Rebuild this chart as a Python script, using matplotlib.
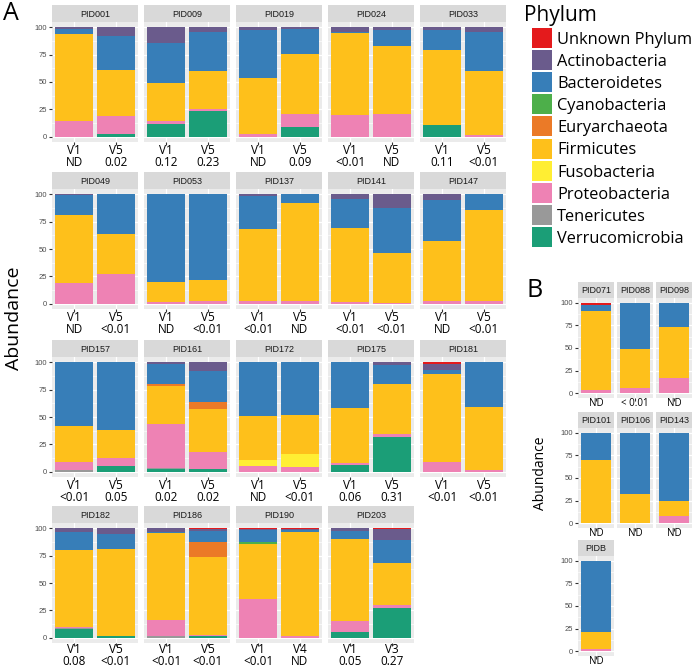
import numpy as np
from matplotlib import pyplot as plt
from matplotlib import transforms as tr
from matplotlib.patches import Rectangle

W, H = 696, 669

PHYLA = ['Unknown Phylum', 'Actinobacteria', 'Bacteroidetes', 'Cyanobacteria',
         'Euryarchaeota', 'Firmicutes', 'Fusobacteria', 'Proteobacteria',
         'Tenericutes', 'Verrucomicrobia']
COLORS = ['#E41A1C', '#6A5B8C', '#377EB8', '#4DAF4A', '#EB7A27',
          '#FEC01B', '#FFEE33', '#EE82B4', '#999999', '#1B9E77']

# panel A: two samples per participant
pid_a = ['PID001', 'PID009', 'PID019', 'PID024', 'PID033',
         'PID049', 'PID053', 'PID137', 'PID141', 'PID147',
         'PID157', 'PID161', 'PID172', 'PID175', 'PID181',
         'PID182', 'PID186', 'PID190', 'PID203']
visit_a = ['V1', 'V5', 'V1', 'V5', 'V1', 'V5', 'V1', 'V5', 'V1', 'V5',
           'V1', 'V5', 'V1', 'V5', 'V1', 'V5', 'V1', 'V5', 'V1', 'V5',
           'V1', 'V5', 'V1', 'V5', 'V1', 'V5', 'V1', 'V5', 'V1', 'V5',
           'V1', 'V5', 'V1', 'V5', 'V1', 'V4', 'V1', 'V3']
pval_a = ['ND', '0.02', '0.12', '0.23', 'ND', '0.09', '<0.01', 'ND', '0.11', '<0.01',
          'ND', '<0.01', 'ND', '<0.01', '<0.01', 'ND', '<0.01', '<0.01', 'ND', '<0.01',
          '<0.01', '0.05', '0.02', '0.02', 'ND', '<0.01', '0.06', '0.31', '<0.01', '<0.01',
          '0.08', '<0.01', '<0.01', '<0.01', '<0.01', 'ND', '0.05', '0.27']

unknown_a = [0, 0, 0, 0, 0, 0, 0, 0, 0, 0, 0, 0, 0, 0, 0, 0, 0, 0, 0, 0,
             0, 0, 0, 0, 0, 0, 0, 0, 1, 0, 0, 0, 0, 0.5, 0.5, 0.5, 0, 0.5]
actino_a = [1, 8, 14, 4, 2, 1, 4.5, 2, 2.5, 4, 0.5, 0, 0, 0, 1, 0, 4, 12.5, 5.5, 0,
            0, 0, 1, 7.5, 0, 0, 0, 2, 6, 0, 3, 5, 3.5, 1.5, 1, 0.5, 2, 10]
bactero_a = [5, 31, 37, 36, 44, 23, 0.5, 15, 18.5, 36, 18.5, 36, 80.5, 78.5, 31, 8, 27, 41, 37.5, 14,
             58, 62, 18.5, 28.5, 49, 48, 42, 18, 4, 41, 17, 13.5, 0.5, 10, 10.5, 2.5, 8, 21.5]
cyano_a = [0, 0, 0, 0, 0, 0, 0, 0, 0, 0, 0, 0, 0, 0, 0, 0, 0, 0, 0, 0,
           0, 0, 0, 0, 0, 0, 0, 0, 0, 0, 0, 0, 0, 0, 2.5, 0, 0, 0]
eury_a = [0, 0, 0, 0, 0, 0, 0, 0, 0, 0, 0, 0, 0, 0, 0, 0, 0, 0, 0, 0,
          0, 0, 2.5, 6.5, 0, 0, 0, 0, 0, 0, 0, 0, 0, 14.5, 0, 0, 0, 0]
firmi_a = [80, 42, 35, 35, 52, 55.5, 75.5, 62, 68, 58.5, 62, 37, 18.5, 19, 66, 89.5, 67.5, 46, 54.5, 83.5,
           33.5, 26, 34, 39.5, 40.5, 35.5, 50.5, 45.5, 80, 58, 70.5, 80, 80, 71.5, 50, 95.5, 74.5, 38]
fuso_a = [0, 0, 0, 0, 0, 0, 0, 0, 0, 0, 0, 0, 0, 0, 0, 0, 0, 0, 0, 0,
          0, 0, 0, 0, 5, 12, 0, 0, 0, 0, 0, 0, 0, 0, 0, 0, 0, 0]
proteo_a = [14, 17, 2.5, 2, 2, 11.5, 19.5, 21, 0, 1.5, 19, 27, 1, 2.5, 2, 2.5, 1.5, 0.5, 2.5, 2.5,
            7, 6.5, 41, 15.5, 5.5, 4.5, 1.5, 3, 9, 1, 1, 0, 15, 0.5, 35.5, 1, 10, 2.5]
teneri_a = [0, 0, 0, 0, 0, 0, 0, 0, 0, 0, 0, 0, 0, 0, 0, 0, 0, 0, 0, 0,
            1.5, 0, 1, 0.5, 0, 0, 0, 0, 0, 0, 0.5, 0.5, 1, 0, 0, 0, 0, 0]
verruco_a = [0, 2, 11.5, 23, 0, 9, 0, 0, 11, 0, 0, 0, 0, 0, 0, 0, 0, 0, 0, 0,
             0, 5.5, 2, 2, 0, 0, 6, 31.5, 0, 0, 8, 1, 0, 1.5, 0, 0, 5.5, 27.5]

# panel B: one sample each
pid_b = ['PID071', 'PID088', 'PID098', 'PID101', 'PID106', 'PID143', 'PIDB']
pval_b = ['ND', '< 0.01', 'ND', 'ND', 'ND', 'ND', 'ND']
unknown_b = [2.5, 0.5, 1, 0.5, 0.5, 0.5, 0.7]
actino_b = [0, 0.5, 0, 0, 0, 0, 0]
bactero_b = [6.5, 50, 25.5, 30, 67.5, 74.5, 78.3]
cyano_b = [0, 0, 0, 0, 0, 0, 0]
eury_b = [0, 0, 0, 0, 0, 0, 0]
firmi_b = [87.5, 42.5, 56.5, 69.5, 32, 17, 18.5]
fuso_b = [0, 0, 0, 0, 0, 0, 0]
proteo_b = [3.5, 6.5, 17, 0, 0, 8, 2.5]
teneri_b = [0, 0, 0, 0, 0, 0, 0]
verruco_b = [0, 0, 0, 0, 0, 0, 0]

table_a = np.array([unknown_a, actino_a, bactero_a, cyano_a, eury_a,
                    firmi_a, fuso_a, proteo_a, teneri_a, verruco_a])
table_b = np.array([unknown_b, actino_b, bactero_b, cyano_b, eury_b,
                    firmi_b, fuso_b, proteo_b, teneri_b, verruco_b])

TICK_FONT = 'Liberation Sans'
LABEL_FONT = 'Open Sans'

fig = plt.figure(figsize=(W / 100, H / 100), dpi=100)


def px_axes(left, top, width, height):
    return fig.add_axes([left / W, 1 - (top + height) / H, width / W, height / H])


def facet(left, top, width, strip_h, plot_h, title, vals, first_col):
    strip = px_axes(left, top, width, strip_h)
    strip.set_facecolor('#D9D9D9')
    strip.set_xticks([])
    strip.set_yticks([])
    for s in strip.spines.values():
        s.set_visible(False)
    strip.text(0.5, 0.45, title, ha='center', va='center', fontsize=6.5,
               color='#1A1A1A', family=TICK_FONT, transform=strip.transAxes)

    ax = px_axes(left, top + strip_h, width, plot_h)
    n = vals.shape[1]
    x = np.arange(1, n + 1)
    bottom = np.zeros(n)
    # ggplot stacks the last factor level at the bottom
    for i in range(len(PHYLA) - 1, -1, -1):
        ax.bar(x, vals[i], 0.9, bottom=bottom, color=COLORS[i], linewidth=0, zorder=2)
        bottom += vals[i]
    ax.set_facecolor('#EBEBEB')
    for s in ax.spines.values():
        s.set_visible(False)
    ax.set_xlim(0.475, n + 0.525)
    ax.set_ylim(-5, 105)
    ax.set_yticks([0, 25, 50, 75, 100])
    ax.set_yticks([12.5, 37.5, 62.5, 87.5], minor=True)
    ax.grid(which='major', color='white', linewidth=0.9, zorder=0)
    ax.grid(which='minor', axis='y', color='white', linewidth=0.45, zorder=0)
    ax.set_axisbelow(True)
    ax.set_xticks(x)
    ax.set_xticklabels([])
    ax.tick_params(axis='x', length=2, color='#333333')
    ax.tick_params(axis='y', which='minor', left=False)
    if first_col:
        ax.tick_params(axis='y', length=2.5, color='#333333', labelsize=5.5,
                       labelcolor='#4D4D4D', pad=1)
        for t in ax.get_yticklabels():
            t.set_family(TICK_FONT)
    else:
        ax.tick_params(axis='y', left=False, labelleft=False)
    return ax, x


def under(ax, x, text, drop, size):
    trans = tr.offset_copy(ax.get_xaxis_transform(), fig=fig, y=-drop, units='dots')
    ax.text(x, 0, text, transform=trans, ha='center', va='baseline',
            fontsize=size, family=LABEL_FONT)


A_LEFTS = [52, 144, 236, 328, 420]
A_TOPS = [5, 172, 340, 506]
for k, pid in enumerate(pid_a):
    r, c = divmod(k, 5)
    cols = slice(2 * k, 2 * k + 2)
    ax, x = facet(A_LEFTS[c], A_TOPS[r], 86, 17, 120, pid, table_a[:, cols], c == 0)
    d1, d2 = (10, 22) if r == 3 else (12, 24)
    for xi, v, p in zip(x, visit_a[cols], pval_a[cols]):
        under(ax, xi, v, d1, 8.5)
        under(ax, xi, p, d2, 8.5)

B_LEFTS = [578, 617, 656]
B_TOPS = [282, 412, 540]
for k, pid in enumerate(pid_b):
    r, c = divmod(k, 3)
    ax, x = facet(B_LEFTS[c], B_TOPS[r], 36, 16, 100, pid, table_b[:, k:k + 1], c == 0)
    under(ax, x[0], pval_b[k], 8.5, 7)

fig.text(11 / W, 1 - 13.5 / H, 'A', fontsize=18, ha='center', va='center', family=LABEL_FONT)
fig.text(535 / W, 1 - 291 / H, 'B', fontsize=18, ha='center', va='center', family=LABEL_FONT)
fig.text(14 / W, 1 - 318 / H, 'Abundance', fontsize=14, rotation=90,
         ha='center', va='center', family=LABEL_FONT)
fig.text(540 / W, 1 - 473 / H, 'Abundance', fontsize=10, rotation=90,
         ha='center', va='center', family=LABEL_FONT)

# legend
fig.text(524 / W, 1 - 21 / H, 'Phylum', fontsize=15, ha='left', va='baseline', family=LABEL_FONT)
for i, (name, col) in enumerate(zip(PHYLA, COLORS)):
    top = 28 + i * 22.1
    fig.add_artist(Rectangle((532 / W, 1 - (top + 20) / H), 20 / W, 20 / H,
                             facecolor=col, edgecolor='none', transform=fig.transFigure))
    fig.text(557 / W, 1 - (top + 16) / H, name, fontsize=11.8, ha='left', va='baseline',
             family=LABEL_FONT)

fig.savefig('out.png', dpi=100)
